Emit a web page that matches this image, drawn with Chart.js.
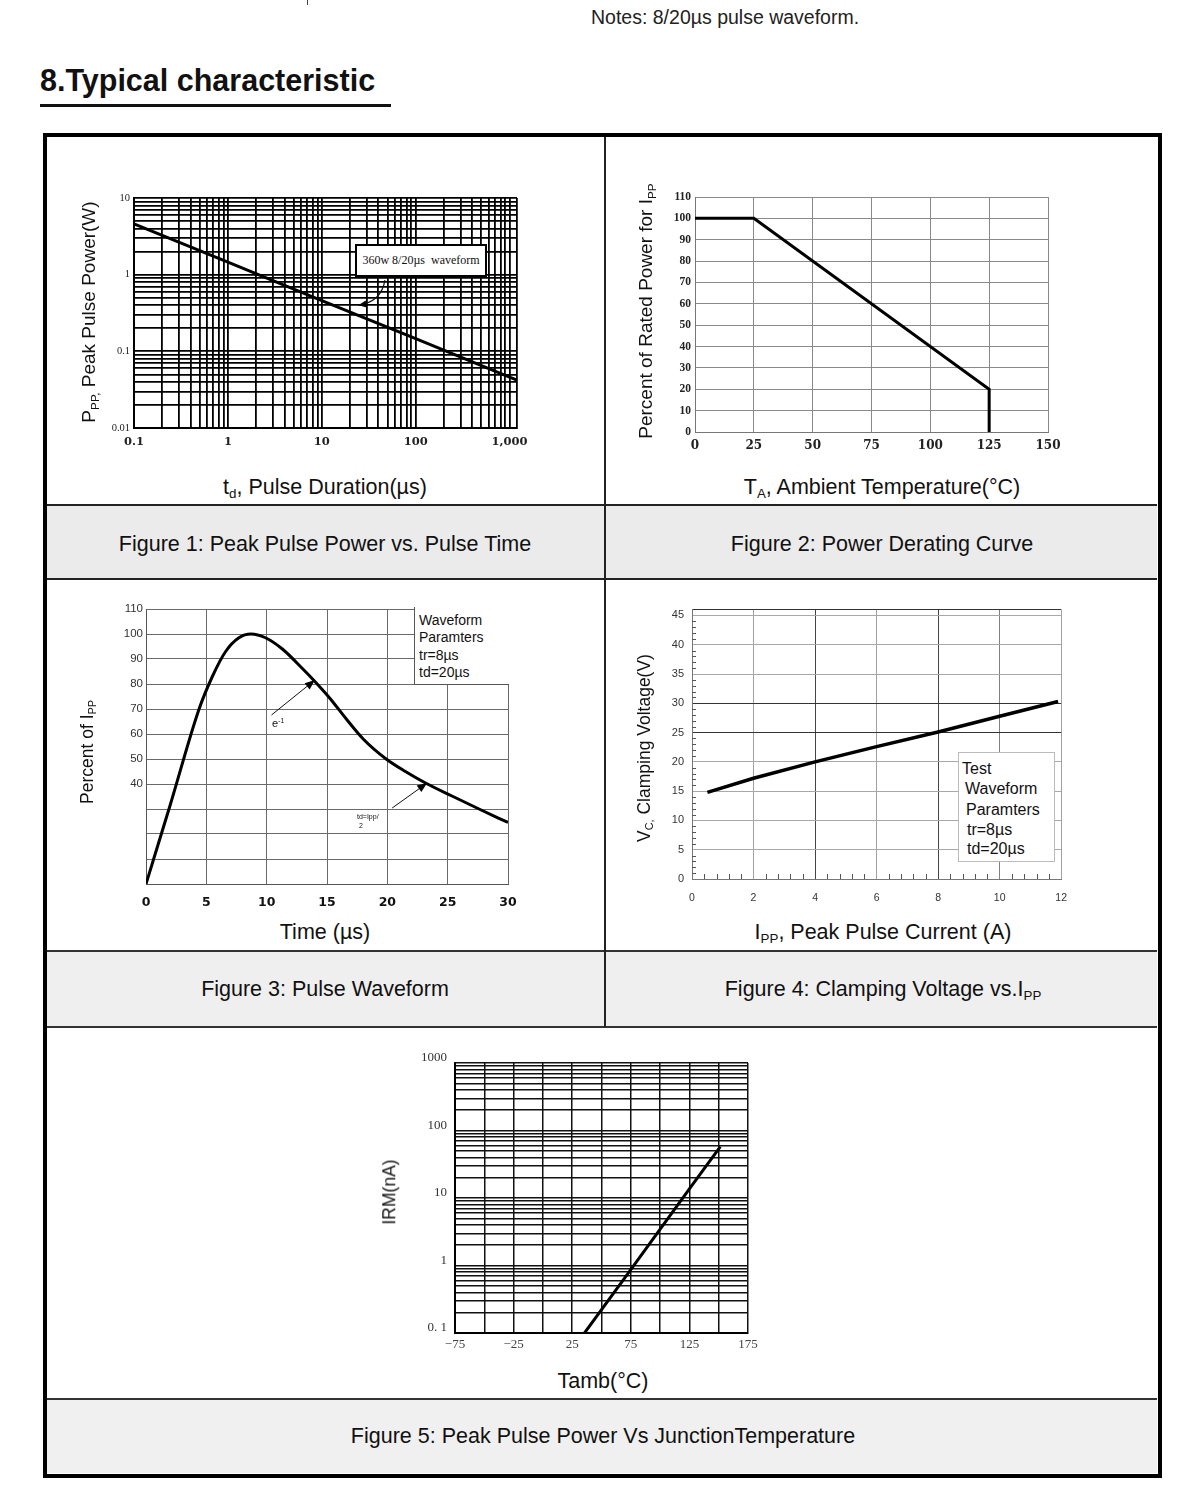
<!DOCTYPE html>
<html>
<head>
<meta charset="utf-8">
<title>8.Typical characteristic</title>
<script src="https://cdn.jsdelivr.net/npm/chart.js@4.4.1/dist/chart.umd.min.js"></script>
<style>
 html,body{margin:0;padding:0;background:#fff;}
 body{position:relative;width:1200px;height:1491px;overflow:hidden;font-family:"Liberation Sans",Arial,Helvetica,sans-serif;color:#111;}
 .box{position:absolute;box-sizing:border-box;}
 canvas{position:absolute;}
 .c{position:absolute;white-space:nowrap;transform:translate(-50%,-50%);line-height:1;}
 .r{position:absolute;white-space:nowrap;transform:translate(-50%,-50%) rotate(-90deg);line-height:1;}
 .l{position:absolute;white-space:nowrap;line-height:1;}
 sub{font-size:62%;vertical-align:baseline;position:relative;top:0.3em;}
 sup{font-size:62%;vertical-align:baseline;position:relative;top:-0.55em;}
</style>
</head>
<body>
<div class="box" style="left:307px;top:0;width:1px;height:5px;background:#444"></div>
<div class="l" style="left:591px;top:8px;font-size:19.5px;color:#222">Notes: 8/20µs pulse waveform.</div>
<div class="l" style="left:40px;top:65px;font-size:30.5px;font-weight:bold;line-height:30px;color:#111">8.Typical characteristic</div>
<div class="box" style="left:40px;top:104px;width:351px;height:3px;background:#111"></div>

<!-- table structure -->
<div class="box" style="left:47px;top:506px;width:1110px;height:73px;background:#ebebeb"></div>
<div class="box" style="left:47px;top:952px;width:1110px;height:75px;background:#efefef"></div>
<div class="box" style="left:47px;top:1400px;width:1110px;height:73px;background:#f0f0f0"></div>
<div class="box" style="left:47px;top:504px;width:1110px;height:2px;background:#222"></div>
<div class="box" style="left:47px;top:578px;width:1110px;height:2px;background:#222"></div>
<div class="box" style="left:47px;top:950px;width:1110px;height:2px;background:#333"></div>
<div class="box" style="left:47px;top:1026px;width:1110px;height:2px;background:#333"></div>
<div class="box" style="left:47px;top:1398px;width:1110px;height:2px;background:#333"></div>
<div class="box" style="left:604px;top:137px;width:2px;height:890px;background:#222"></div>
<div class="box" style="left:43px;top:133px;width:1119px;height:1345px;border:4px solid #000"></div>

<canvas id="f1" width="480" height="270" style="left:60px;top:185px"></canvas>
<canvas id="f2" width="440" height="280" style="left:630px;top:180px"></canvas>
<canvas id="f3" width="460" height="320" style="left:70px;top:595px"></canvas>
<canvas id="f4" width="450" height="320" style="left:630px;top:595px"></canvas>
<canvas id="f5" width="420" height="320" style="left:370px;top:1045px"></canvas>

<!-- Figure 1 texts -->
<div class="r" style="left:88px;top:312px;font-size:19px">P<sub>PP,</sub> Peak Pulse Power(W)</div>
<div class="c" style="left:325px;top:488px;font-size:21.5px">t<sub>d</sub>, Pulse Duration(µs)</div>
<div class="c" style="left:325px;top:545px;font-size:21.5px">Figure 1: Peak Pulse Power vs. Pulse Time</div>
<div class="box" style="left:355px;top:244px;width:132px;height:33px;border:2px solid #000;background:#fff;font-family:'Liberation Serif','Times New Roman',serif;font-size:12px;line-height:29px;text-align:center;white-space:nowrap">360w 8/20µs&nbsp; waveform</div>

<!-- Figure 2 texts -->
<div class="r" style="left:645px;top:311px;font-size:19px">Percent of Rated Power for I<sub>PP</sub></div>
<div class="c" style="left:882px;top:488px;font-size:21.5px">T<sub>A</sub>, Ambient Temperature(°C)</div>
<div class="c" style="left:882px;top:545px;font-size:21.5px">Figure 2: Power Derating Curve</div>

<!-- Figure 3 texts -->
<div class="r" style="left:88px;top:752px;font-size:17.5px">Percent of I<sub>PP</sub></div>
<div class="c" style="left:325px;top:933px;font-size:21.5px">Time (µs)</div>
<div class="c" style="left:325px;top:990px;font-size:21.5px">Figure 3: Pulse Waveform</div>
<div class="box" style="left:414px;top:607px;width:95px;height:78px;background:#fff;border-left:1px solid #555;border-bottom:1px solid #555"></div>
<div class="l" style="left:419px;top:612px;font-size:14px;line-height:17.4px">Waveform<br>Paramters<br>tr=8µs<br>td=20µs</div>
<div class="l" style="left:272px;top:718px;font-size:11px">e<sup>-1</sup></div>
<div class="l" style="left:357px;top:813px;font-size:7px">td=Ipp/</div>
<div class="l" style="left:359px;top:822px;font-size:7px">2</div>

<!-- Figure 4 texts -->
<div class="r" style="left:645px;top:748px;font-size:17.5px">V<sub>C,</sub> Clamping Voltage(V)</div>
<div class="c" style="left:883px;top:933px;font-size:21.5px">I<sub>PP</sub>, Peak Pulse Current (A)</div>
<div class="c" style="left:883px;top:990px;font-size:21.5px">Figure 4: Clamping Voltage vs.I<sub>PP</sub></div>
<div class="box" style="left:958px;top:752px;width:97px;height:110px;background:#fff;border:1px solid #bbb"></div>
<div class="l" style="left:962px;top:761px;font-size:16px">Test</div>
<div class="l" style="left:965px;top:781px;font-size:16px">Waveform</div>
<div class="l" style="left:966px;top:802px;font-size:16px">Paramters</div>
<div class="l" style="left:967px;top:822px;font-size:16px">tr=8µs</div>
<div class="l" style="left:967px;top:841px;font-size:16px">td=20µs</div>

<!-- Figure 5 texts -->
<div class="r" style="left:390px;top:1192px;font-size:17.5px">IRM(nA)</div>
<div class="c" style="left:603px;top:1382px;font-size:21.5px">Tamb(°C)</div>
<div class="c" style="left:603px;top:1437px;font-size:21.5px">Figure 5: Peak Pulse Power Vs JunctionTemperature</div>

<script>
// ---------------- DATA ----------------
// Figure 1: Peak Pulse Power vs. Pulse Time (log-log)
const fig1Duration = [0.1, 1, 10, 100, 1000, 1200];
const fig1Power    = [4.6, 1.46, 0.46, 0.146, 0.046, 0.042];
const fig1XTickValues = [0.1, 1, 10, 100, 1000];
const fig1XTickLabels = ['0.1', '1', '10', '100', '1,000'];
const fig1YTickValues = [0.01, 0.1, 1, 10];
const fig1YTickLabels = ['0.01', '0.1', '1', '10'];

// Figure 2: Power Derating Curve
const fig2Temp    = [0, 25, 125, 125];
const fig2Percent = [100, 100, 20, 0];
const fig2XTickValues = [0, 25, 50, 75, 100, 125, 150];
const fig2XTickLabels = ['0', '25', '50', '75', '100', '125', '150'];
const fig2YTickValues = [0, 10, 20, 30, 40, 50, 60, 70, 80, 90, 100, 110];
const fig2YTickLabels = ['0', '10', '20', '30', '40', '50', '60', '70', '80', '90', '100', '110'];

// Figure 3: Pulse Waveform
const fig3Time    = [0, 2, 4.4, 5.5, 6.6, 7.7, 8.7, 9.9, 11.3, 13.0, 13.9, 15.2, 16.6, 18.0, 19.9, 21.5, 23.2, 25.4, 27.6, 30];
const fig3Percent = [0, 31.5, 70, 83, 93, 98.5, 100, 98.5, 94, 86, 81.5, 74.5, 66, 58, 50, 45, 40.3, 35.1, 30.0, 24.6];
const fig3XTickValues = [0, 5, 10, 15, 20, 25, 30];
const fig3XTickLabels = ['0', '5', '10', '15', '20', '25', '30'];
const fig3YGridValues = [0, 10, 20, 30, 40, 50, 60, 70, 80, 90, 100, 110];
const fig3YTickValues = [40, 50, 60, 70, 80, 90, 100, 110];
const fig3YTickLabels = ['40', '50', '60', '70', '80', '90', '100', '110'];

// Figure 4: Clamping Voltage vs. Ipp
const fig4Current = [0.5, 2, 4, 6, 8, 10, 11.9];
const fig4Voltage = [14.8, 17.2, 20, 22.6, 25.1, 27.8, 30.3];
const fig4XTickValues = [0, 2, 4, 6, 8, 10, 12];
const fig4XTickLabels = ['0', '2', '4', '6', '8', '10', '12'];
const fig4YTickValues = [0, 5, 10, 15, 20, 25, 30, 35, 40, 45];
const fig4YTickLabels = ['0', '5', '10', '15', '20', '25', '30', '35', '40', '45'];

// Figure 5: IRM vs. Tamb (log y)
const fig5Temp = [35.5, 75, 125, 151.4];
const fig5Irm  = [0.1, 0.87, 13.6, 57.8];
const fig5XGridValues = [-75, -50, -25, 0, 25, 50, 75, 100, 125, 150, 175];
const fig5XTickValues = [-75, -25, 25, 75, 125, 175];
const fig5XTickLabels = ['\u221275', '\u221225', '25', '75', '125', '175'];
const fig5YTickValues = [0.1, 1, 10, 100, 1000];
const fig5YTickLabels = ['0. 1', '1', '10', '100', '1000'];

// ---------------- HELPERS ----------------
function logGrid(eMin, eMax) {
  const out = [];
  for (let e = eMin; e <= eMax; e++) for (let m = 1; m <= 9; m++) out.push(Number((m * Math.pow(10, e)).toPrecision(6)));
  return out;
}
function labelFrom(values, labels) {
  return function (v) {
    const i = values.findIndex(d => Math.abs(d - v) <= Math.abs(d) * 1e-6 + 1e-9);
    return i >= 0 ? labels[i] : '';
  };
}
function pts(xs, ys) { return xs.map((x, i) => ({ x: x, y: ys[i] })); }
function axis(o) {
  return {
    type: o.type || 'linear', min: o.min, max: o.max, position: o.position,
    afterBuildTicks: s => { s.ticks = o.grid.map(v => ({ value: v })); },
    afterFit: s => { if (o.w != null) s.width = o.w; if (o.h != null) s.height = o.h; },
    ticks: {
      autoSkip: false, maxRotation: 0, minRotation: 0, padding: o.pad, color: o.color || '#222',
      font: o.font, labelOffset: o.labelOffset || 0, callback: labelFrom(o.vals, o.labels)
    },
    grid: { color: o.gridColor, lineWidth: o.gridW, drawTicks: false },
    border: { color: o.border, width: o.borderW }
  };
}
function base(padTop, padRight) {
  return {
    responsive: false, animation: false, devicePixelRatio: 1, events: [],
    layout: { padding: { left: 0, right: padRight, top: padTop, bottom: 0 } },
    plugins: { legend: { display: false }, tooltip: { enabled: false } },
    elements: { point: { radius: 0 } }
  };
}
function arrowPlugin(arrows) {
  return {
    id: 'arrows',
    afterDatasetsDraw(chart) {
      const ctx = chart.ctx, xs = chart.scales.x, ys = chart.scales.y;
      ctx.save();
      ctx.strokeStyle = '#111'; ctx.fillStyle = '#000';
      arrows.forEach(a => {
        const x1 = xs.getPixelForValue(a.from[0]), y1 = ys.getPixelForValue(a.from[1]);
        const x2 = xs.getPixelForValue(a.to[0]), y2 = ys.getPixelForValue(a.to[1]);
        let px = x1, py = y1;
        ctx.lineWidth = a.w || 1;
        ctx.beginPath(); ctx.moveTo(x1, y1);
        if (a.ctrl) {
          const cx = xs.getPixelForValue(a.ctrl[0]), cy = ys.getPixelForValue(a.ctrl[1]);
          ctx.quadraticCurveTo(cx, cy, x2, y2); px = cx; py = cy;
        } else ctx.lineTo(x2, y2);
        ctx.stroke();
        const ang = Math.atan2(y2 - py, x2 - px), L = a.len || 10, W = a.hw || 4;
        const bx = x2 - L * Math.cos(ang), by = y2 - L * Math.sin(ang);
        ctx.beginPath(); ctx.moveTo(x2, y2);
        ctx.lineTo(bx + W * Math.sin(ang), by - W * Math.cos(ang));
        ctx.lineTo(bx - W * Math.sin(ang), by + W * Math.cos(ang));
        ctx.closePath(); ctx.fill();
      });
      ctx.restore();
    }
  };
}
const serif = '"Liberation Serif","Times New Roman",serif';
const wideSerif = '"DejaVu Serif",serif';
const sans = '"Liberation Sans",Arial,sans-serif';

// ---------------- FIGURE 1 ----------------
new Chart(document.getElementById('f1'), {
  type: 'line',
  data: { datasets: [{ data: pts(fig1Duration, fig1Power), borderColor: '#000', borderWidth: 3, fill: false }] },
  options: Object.assign(base(13, 23), {
    scales: {
      x: axis({ type: 'logarithmic', min: 0.1, max: 1200, grid: logGrid(-1, 2).concat([1000, 1200]),
        vals: fig1XTickValues, labels: fig1XTickLabels, h: 27, pad: 7, color: '#222',
        font: { family: wideSerif, size: 11.5, weight: 'bold' }, gridColor: '#000', gridW: 1.8, border: '#000', borderW: 2 }),
      y: axis({ type: 'logarithmic', min: 0.01, max: 10, grid: logGrid(-2, 0).concat([10]),
        vals: fig1YTickValues, labels: fig1YTickLabels, w: 74, pad: 4, color: '#222',
        font: { family: serif, size: 10.5 }, gridColor: '#000', gridW: 1.8, border: '#000', borderW: 2 })
    }
  }),
  plugins: [arrowPlugin([{ from: [47, 0.85], ctrl: [43.4, 0.444], to: [24.5, 0.40], w: 1.2, len: 8, hw: 3.5 }])]
});

// ---------------- FIGURE 2 ----------------
new Chart(document.getElementById('f2'), {
  type: 'line',
  data: { datasets: [{ data: pts(fig2Temp, fig2Percent), borderColor: '#000', borderWidth: 3, fill: false }] },
  options: Object.assign(base(17, 22), {
    scales: {
      x: axis({ min: 0, max: 150, grid: fig2XTickValues, vals: fig2XTickValues, labels: fig2XTickLabels,
        h: 28, pad: 7, font: { family: wideSerif, size: 12, weight: 'bold' }, gridColor: '#8a8a8a', gridW: 1, border: '#777', borderW: 1 }),
      y: axis({ min: 0, max: 110, grid: fig2YTickValues, vals: fig2YTickValues, labels: fig2YTickLabels,
        w: 65, pad: 4, font: { family: serif, size: 11.5, weight: 'bold' }, gridColor: '#8a8a8a', gridW: 1, border: '#777', borderW: 1 })
    }
  })
});

// ---------------- FIGURE 3 ----------------
new Chart(document.getElementById('f3'), {
  type: 'line',
  data: { datasets: [{ data: pts(fig3Time, fig3Percent), borderColor: '#000', borderWidth: 3, fill: false, cubicInterpolationMode: 'monotone' }] },
  options: Object.assign(base(14, 22), {
    scales: {
      x: axis({ min: 0, max: 30, grid: fig3XTickValues, vals: fig3XTickValues, labels: fig3XTickLabels,
        h: 31, pad: 11, color: '#111', font: { family: '"DejaVu Sans",sans-serif', size: 12.5, weight: 'bold' }, gridColor: '#6a6a6a', gridW: 1, border: '#555', borderW: 1 }),
      y: axis({ min: 0, max: 110, grid: fig3YGridValues, vals: fig3YTickValues, labels: fig3YTickLabels,
        w: 76, pad: 3, color: '#333', font: { family: sans, size: 11.5 }, gridColor: '#6a6a6a', gridW: 1, border: '#555', borderW: 1 })
    }
  }),
  plugins: [arrowPlugin([
    { from: [10.4, 67.6], to: [14.0, 81.6], w: 1, len: 10, hw: 4 },
    { from: [20.4, 30.4], to: [23.3, 40.4], w: 1, len: 10, hw: 4 }
  ])]
});

// ---------------- FIGURE 4 ----------------
const fig4XGridColor = v => (v === 4 || v === 8) ? '#444' : (v === 10 ? '#808080' : '#a0a0a0');
const fig4YGridColor = v => (v === 25 || v === 30 || v === 46) ? '#333' : '#a8a8a8';
const minorTicks4 = {
  id: 'minorTicks',
  afterDraw(chart) {
    const ctx = chart.ctx, x = chart.scales.x, y = chart.scales.y, a = chart.chartArea;
    ctx.save(); ctx.strokeStyle = '#555'; ctx.lineWidth = 1; ctx.beginPath();
    for (let i = 1; i < 30; i++) {
      const v = i * 0.4;
      if (Math.abs(v / 2 - Math.round(v / 2)) < 1e-6) continue;
      const px = Math.round(x.getPixelForValue(v)) + 0.5;
      ctx.moveTo(px, a.bottom); ctx.lineTo(px, a.bottom - 5);
    }
    for (let v = 1; v < 46; v++) {
      if (v % 5 === 0) continue;
      const py = Math.round(y.getPixelForValue(v)) + 0.5;
      ctx.moveTo(a.left, py); ctx.lineTo(a.left + 4, py);
    }
    ctx.stroke(); ctx.restore();
  }
};
const fig4X = axis({ min: 0, max: 12, grid: fig4XTickValues, vals: fig4XTickValues, labels: fig4XTickLabels,
  h: 36, pad: 13, color: '#333', font: { family: sans, size: 10.5 }, gridColor: '#999', gridW: 1, border: '#777', borderW: 1 });
fig4X.grid.color = ctx => fig4XGridColor(ctx.tick ? ctx.tick.value : 0);
const fig4Y = axis({ min: 0, max: 46, grid: fig4YTickValues.concat([46]), vals: fig4YTickValues, labels: fig4YTickLabels,
  w: 62, pad: 8, color: '#333', font: { family: sans, size: 11 }, gridColor: '#999', gridW: 1, border: '#777', borderW: 1 });
fig4Y.grid.color = ctx => fig4YGridColor(ctx.tick ? ctx.tick.value : 0);
new Chart(document.getElementById('f4'), {
  type: 'line',
  data: { datasets: [{ data: pts(fig4Current, fig4Voltage), borderColor: '#000', borderWidth: 3.5, fill: false }] },
  options: Object.assign(base(14, 18), { scales: { x: fig4X, y: fig4Y } }),
  plugins: [minorTicks4]
});

// ---------------- FIGURE 5 ----------------
new Chart(document.getElementById('f5'), {
  type: 'line',
  data: { datasets: [{ data: pts(fig5Temp, fig5Irm), borderColor: '#000', borderWidth: 3, fill: false }] },
  options: Object.assign(base(18, 42), {
    scales: {
      x: axis({ min: -75, max: 175, grid: fig5XGridValues, vals: fig5XTickValues, labels: fig5XTickLabels,
        h: 32, pad: 4, color: '#444', font: { family: serif, size: 13 }, gridColor: '#111', gridW: 1.5, border: '#000', borderW: 2 }),
      y: axis({ type: 'logarithmic', min: 0.1, max: 1000, grid: logGrid(-1, 2).concat([1000]),
        vals: fig5YTickValues, labels: fig5YTickLabels, w: 85, pad: 8, labelOffset: -5, color: '#333',
        font: { family: serif, size: 13 }, gridColor: '#111', gridW: 1.5, border: '#000', borderW: 2 })
    }
  })
});
</script>
</body>
</html>
